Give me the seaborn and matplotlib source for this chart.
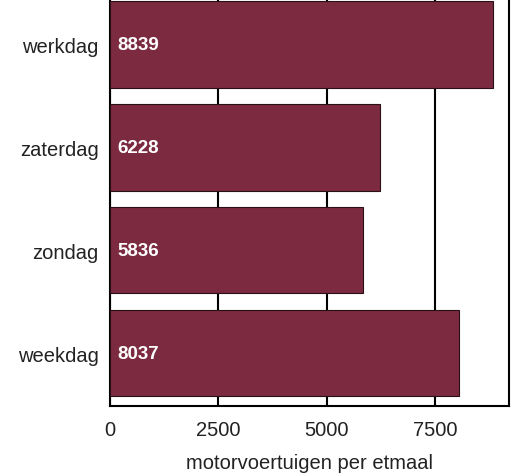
import matplotlib
matplotlib.use("Agg")
import matplotlib.pyplot as plt
import seaborn as sns
import pandas as pd

categories = ["werkdag", "zaterdag", "zondag", "weekdag"]
values = [8839, 6228, 5836, 8037]
xticks = [0, 2500, 5000, 7500]
xlabel = "motorvoertuigen per etmaal"

sns.set_style("white")
plt.rcParams['font.family'] = ['Liberation Sans', 'DejaVu Sans']

df = pd.DataFrame({"dag": categories, "waarde": values})

fig = plt.figure(figsize=(5.20, 4.77), dpi=100)
ax = fig.add_axes([0.2115, 0.1468, 0.979 - 0.2115, 0.8532])

sns.barplot(data=df, y="dag", x="waarde", orient="h", color="#7B2A40",
            saturation=1, width=0.84, edgecolor="#2a1016", linewidth=0.8,
            ax=ax, zorder=3)

ax.set_xlim(0, 9200)
ax.set_ylim(3.515, -0.443)
ax.set_xticks(xticks)
ax.set_xticklabels([str(t) for t in xticks])
ax.grid(axis="x", color="black", linewidth=1.5, zorder=0)
ax.grid(axis="y", visible=False)
ax.set_axisbelow(True)

for s in ["left", "bottom", "right"]:
    ax.spines[s].set_color("black")
    ax.spines[s].set_linewidth(1.5)
ax.spines["top"].set_visible(False)

ax.tick_params(axis="both", length=0, labelsize=14.5, colors="#222222")
ax.tick_params(axis="y", pad=8)
ax.tick_params(axis="x", pad=10)
ax.set_ylabel("")
ax.set_xlabel(xlabel, fontsize=14.5, color="#222222", labelpad=10)

for i, v in enumerate(values):
    ax.text(180, i, str(v), color="white", fontweight="bold", fontsize=13.5,
            va="center", ha="left", zorder=5)

fig.savefig("out.png", dpi=100)
